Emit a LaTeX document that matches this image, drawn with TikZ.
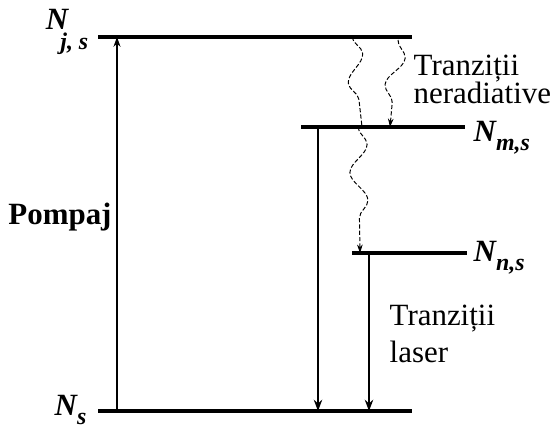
\documentclass[tikz,border=0pt]{standalone}
\usepackage{fontspec}
\setmainfont{Liberation Serif}
\usetikzlibrary{decorations.pathmorphing,arrows.meta}

\tikzset{
  level/.style={line width=2.2pt},
  pump/.style={-{Stealth[length=7pt,width=5pt]}, line width=1pt},
  laser/.style={-{Stealth[length=8pt,width=6pt]}, line width=1.8pt},
  nonrad/.style={-{Stealth[length=6pt,width=4pt]}, line width=0.7pt,
    dash pattern=on 3pt off 1.5pt, decorate,
    decoration={snake, amplitude=2.2mm, segment length=14mm, post length=3mm}},
  lbl/.style={font=\fontsize{22}{24}\selectfont, inner sep=1pt},
}

\newcommand{\lvl}[2]{{\bfseries\itshape N}\raisebox{-0.3em}{\fontsize{17}{17}\selectfont\bfseries\itshape #2}}

\begin{document}
\begin{tikzpicture}
  \useasboundingbox (0,0) rectangle (14,10.8);

  % energy levels
  \coordinate (js-l) at (2.45,9.875);  \coordinate (js-r) at (10.3,9.875);
  \coordinate (ms-l) at (7.525,7.625); \coordinate (ms-r) at (11.625,7.625);
  \coordinate (ns-l) at (8.8,4.475);   \coordinate (ns-r) at (11.675,4.475);
  \coordinate (s-l) at (2.45,0.525);   \coordinate (s-r) at (10.3,0.525);
  \draw[level] (js-l) -- (js-r);
  \draw[level] (ms-l) -- (ms-r);
  \draw[level] (ns-l) -- (ns-r);
  \draw[level] (s-l) -- (s-r);

  % level labels
  \node[lbl, anchor=east] (njs) at (2.25,10.0) {{\bfseries\itshape N}\kern-0.25em\raisebox{-0.65em}{\fontsize{17}{17}\selectfont\bfseries\itshape j, s}};
  \node[lbl, anchor=west] (nms) at (11.8,7.35) {\lvl{N}{m,s}};
  \node[lbl, anchor=west] (nns) at (11.8,4.35) {\lvl{N}{n,s}};
  \node[lbl, anchor=east] (ns) at (2.2,0.55) {\lvl{N}{s}};

  % pumping
  \coordinate (p0) at (2.925,0.525); \coordinate (p1) at (2.925,9.875);
  \draw[pump] (p0) -- (p1);
  \node[lbl, font=\fontsize{22}{24}\selectfont\bfseries] (pompaj) at (1.5,5.375) {Pompaj};

  % non-radiative transitions
  \coordinate (a0) at (8.8,9.875);  \coordinate (a1) at (9.05,7.625);
  \coordinate (b0) at (9.95,9.8);   \coordinate (b1) at (9.75,7.625);
  \coordinate (c0) at (8.95,7.625); \coordinate (c1) at (9.0,4.475);
  \draw[nonrad, -] (a0) -- (a1);
  \draw[nonrad] (b0) -- (b1);
  \draw[nonrad] (c0) -- (c1);
  \node[lbl, anchor=west, align=left, font=\fontsize{22}{20}\selectfont] (nerad) at (10.3,8.82) {Tranziții\\neradiative};

  % laser transitions
  \coordinate (l1a) at (7.95,7.625); \coordinate (l1b) at (7.95,0.525);
  \coordinate (l2a) at (9.225,4.475); \coordinate (l2b) at (9.225,0.525);
  \draw[laser] (l1a) -- (l1b);
  \draw[laser] (l2a) -- (l2b);
  \node[lbl, anchor=west, align=left, font=\fontsize{22}{26}\selectfont] (las) at (9.7,2.45) {Tranziții\\laser};
\end{tikzpicture}
\end{document}
